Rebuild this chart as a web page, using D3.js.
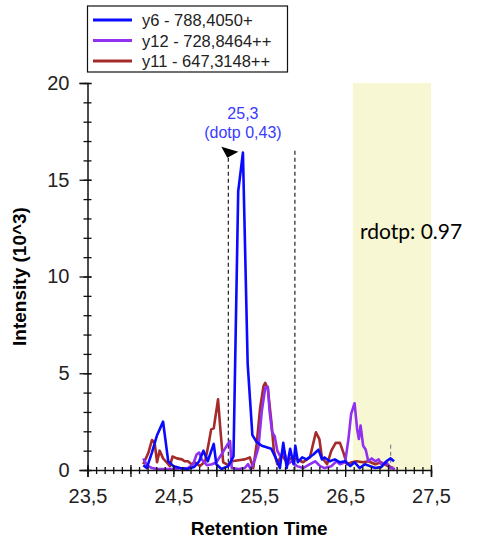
<!DOCTYPE html>
<html>
<head>
<meta charset="utf-8">
<script src="https://cdn.jsdelivr.net/npm/d3@7"></script>
<style>
  body { margin: 0; background: #fff; }
  svg { display: block; font-family: "Liberation Sans", Arial, sans-serif; }
</style>
</head>
<body>
<svg id="chart" width="482" height="544"></svg>
<script>
// y6 - 788,4050+  (blue)
var rtY6 = [24.15, 24.19, 24.25, 24.31, 24.38, 24.44, 24.50, 24.58, 24.66, 24.74, 24.80, 24.85, 24.90, 24.97, 25.00,
  25.06, 25.14, 25.20, 25.255, 25.31, 25.365, 25.42, 25.47, 25.53, 25.64, 25.70, 25.74, 25.78, 25.82, 25.86, 25.90,
  25.92, 25.95, 26.00, 26.05, 26.13, 26.19, 26.23, 26.26, 26.32, 26.38, 26.44, 26.50, 26.56, 26.61, 26.67, 26.73,
  26.79, 26.85, 26.92, 26.98, 27.03, 27.07];
var intY6 = [0.25, 0.1, 0.9, 1.8, 2.5, 0.45, 0.2, 0.1, 0.05, 0.15, 0.45, 1.0, 0.45, 1.35, 0.3,
  0.05, 0.2, 0.7, 14.4, 16.4, 5.5, 1.8, 1.45, 1.25, 1.1, 0.55, 0.1, 1.4, 0.1, 1.1, 0.3,
  1.25, 0.4, 0.65, 0.55, 0.8, 1.05, 0.55, 0.65, 0.45, 0.55, 0.4, 0.45, 0.2, 0.4, 0.1, 0.3,
  0.2, 0.1, 0.15, 0.45, 0.6, 0.45];

// y12 - 728,8464++  (purple)
var rtY12 = [24.15, 24.19, 24.25, 24.32, 24.48, 24.67, 24.73, 24.77, 24.80, 24.83, 24.89, 24.95, 25.00, 25.06, 25.12,
  25.16, 25.18, 25.26, 25.33, 25.37, 25.40, 25.45, 25.49, 25.53, 25.57, 25.60, 25.62, 25.65, 25.68, 25.71, 25.75,
  25.79, 25.83, 25.88, 25.94, 26.01, 26.09, 26.15, 26.21, 26.26, 26.34, 26.40, 26.44, 26.50, 26.54, 26.57, 26.61,
  26.64, 26.66, 26.68, 26.71, 26.74, 26.77, 26.81, 26.85, 26.89, 26.92, 26.98, 27.03, 27.08];
var intY12 = [0.6, 0.25, 0.1, 0.05, 0.05, 0.1, 0.3, 0.8, 0.9, 0.55, 0.25, 0.3, 0.4, 0.8, 1.25,
  1.5, 0.1, 0.05, 0.1, 0.3, 0.05, 0.55, 1.15, 3.05, 4.25, 4.3, 3.05, 1.95, 1.75, 1.0, 0.65,
  1.0, 0.3, 0.45, 0.2, 0.1, 0.3, 0.45, 0.2, 0.1, 0.2, 0.45, 0.3, 0.4, 1.65, 2.9, 3.45,
  2.1, 1.6, 2.3, 1.25, 1.05, 0.45, 0.6, 0.45, 0.55, 0.3, 0.4, 0.1, 0.05];

// y11 - 647,3148++  (brown)
var rtY11 = [24.15, 24.21, 24.25, 24.28, 24.31, 24.34, 24.38, 24.42, 24.46, 24.49, 24.54, 24.60, 24.63, 24.67, 24.71,
  24.75, 24.81, 24.87, 24.91, 24.94, 24.97, 25.02, 25.05, 25.08, 25.14, 25.18, 25.26, 25.33, 25.39, 25.43, 25.47,
  25.51, 25.55, 25.57, 25.60, 25.64, 25.67, 25.71, 25.76, 25.82, 25.88, 25.94, 26.01, 26.09, 26.13, 26.16, 26.20,
  26.23, 26.29, 26.34, 26.39, 26.44, 26.48, 26.52, 26.58, 26.63, 26.71, 26.77, 26.85, 26.92, 27.00, 27.06];
var intY11 = [0.3, 0.9, 1.55, 1.45, 0.4, 1.0, 0.6, 0.4, 0.2, 0.7, 0.6, 0.55, 0.45, 0.45, 0.3,
  0.4, 0.2, 0.45, 1.35, 2.1, 2.15, 3.65, 1.95, 0.4, 0.25, 0.45, 0.5, 0.55, 0.65, 0.1, 1.35,
  3.2, 4.35, 4.5, 4.2, 2.55, 1.0, 0.3, 0.8, 0.4, 0.65, 0.55, 0.4, 0.65, 1.4, 1.95, 1.6,
  0.65, 0.3, 1.0, 1.4, 1.4, 0.9, 0.3, 0.4, 0.45, 0.4, 0.45, 0.3, 0.4, 0.2, 0.1];

var seriesNames = ["y6 - 788,4050+", "y12 - 728,8464++", "y11 - 647,3148++"];
var seriesColors = ["#0a0aff", "#9030f0", "#a52a2a"];

var xMajorTicks = [23.5, 24, 24.5, 25, 25.5, 26, 26.5, 27, 27.5];
var xLabelTicks = [23.5, 24.5, 25.5, 26.5, 27.5];
var yMajorTicks = [0, 5, 10, 15, 20];

var peakRt = 25.31, peakLabel = "25,3", peakDotp = "(dotp 0,43)";
var integStart = 25.14, integEnd = 25.915, integTop = 16.5;
var predictedRt = 27.03, predictedTop = 1.3;
var bandStart = 26.59, bandEnd = 27.5;
var rdotpText = "rdotp: 0.97";

var svg = d3.select("#chart");
var margin = {left: 87.5, right: 51, top: 83, bottom: 74};
var W = 482, H = 544;

var x = d3.scaleLinear().domain([23.5, 27.5]).range([margin.left, W - margin.right]);
var y = d3.scaleLinear().domain([0, 20]).range([H - margin.bottom, margin.top]);

// highlighted band
svg.append("rect")
  .attr("x", x(bandStart)).attr("y", y(20))
  .attr("width", x(bandEnd) - x(bandStart)).attr("height", y(0) - y(20))
  .attr("fill", "#f8f7d3");

// rdotp label
svg.append("text")
  .attr("x", 360).attr("y", 239)
  .style("font-family", "Lato, 'Open Sans', sans-serif")
  .style("font-size", "21px")
  .attr("fill", "#000")
  .text(rdotpText);

// integration boundaries
var dashed = svg.append("g").attr("stroke", "#222").attr("stroke-width", 1.2).attr("stroke-dasharray", "4,3");
[integStart, integEnd].forEach(function(t) {
  dashed.append("line").attr("x1", x(t)).attr("x2", x(t)).attr("y1", y(integTop)).attr("y2", y(0));
});
svg.append("line")
  .attr("x1", x(predictedRt)).attr("x2", x(predictedRt))
  .attr("y1", y(predictedTop)).attr("y2", y(0))
  .attr("stroke", "#888").attr("stroke-width", 1.2).attr("stroke-dasharray", "4,3");

// arrow flag at the start boundary
var ax = x(integStart), ay = y(integTop);
svg.append("path")
  .attr("d", "M" + (ax - 7) + "," + (ay - 4) + "L" + (ax + 10) + "," + (ay + 1) + "L" + (ax - 1) + "," + (ay + 7) + "Z")
  .attr("fill", "#000");

// chromatogram lines (drawn y11, y12, y6 so blue is on top)
var line = d3.line().x(function(d) { return x(d[0]); }).y(function(d) { return y(d[1]); });
var series = [
  {rt: rtY6, v: intY6, color: seriesColors[0]},
  {rt: rtY12, v: intY12, color: seriesColors[1]},
  {rt: rtY11, v: intY11, color: seriesColors[2]}
];
series.slice().reverse().forEach(function(s) {
  svg.append("path")
    .datum(d3.zip(s.rt, s.v))
    .attr("d", line)
    .attr("fill", "none")
    .attr("stroke", s.color)
    .attr("stroke-width", 2.6)
    .attr("stroke-linejoin", "round");
});

// peak label
var lbl = svg.append("g").attr("fill", "#3a3aff").style("font-size", "16px").attr("text-anchor", "middle");
lbl.append("text").attr("x", x(peakRt)).attr("y", 119).text(peakLabel);
lbl.append("text").attr("x", x(peakRt)).attr("y", 138).text(peakDotp);

// axes (extra tick-only axes make the ticks cross the axis line)
function tickOnly(g) { g.select(".domain").remove(); }

svg.append("g").attr("transform", "translate(" + margin.left + ",0)")
  .call(d3.axisLeft(y).tickValues(yMajorTicks).tickSize(8).tickPadding(10).tickFormat(d3.format("d")));
svg.append("g").attr("transform", "translate(" + margin.left + ",0)")
  .call(d3.axisRight(y).tickValues(yMajorTicks).tickSize(4).tickFormat("")).call(tickOnly);
svg.append("g").attr("transform", "translate(" + (margin.left - 4) + ",0)")
  .call(d3.axisRight(y).ticks(20).tickSize(8).tickFormat("")).call(tickOnly);

var x0 = y(0);
svg.append("g").attr("transform", "translate(0," + x0 + ")")
  .call(d3.axisBottom(x).tickValues(xMajorTicks).tickSize(7).tickPadding(12)
    .tickFormat(function(d) { return xLabelTicks.indexOf(d) >= 0 ? d3.format(".1f")(d).replace(".", ",") : ""; }));
svg.append("g").attr("transform", "translate(0," + x0 + ")")
  .call(d3.axisTop(x).tickValues(xMajorTicks).tickSize(5).tickFormat("")).call(tickOnly);
svg.append("g").attr("transform", "translate(0," + (x0 - 3) + ")")
  .call(d3.axisBottom(x).ticks(40).tickSize(7).tickFormat("")).call(tickOnly);

svg.selectAll(".domain").attr("stroke", "#111").attr("stroke-width", 1.5);
svg.selectAll(".tick line").attr("stroke", "#111").attr("stroke-width", 1.3);
svg.selectAll(".tick text").attr("fill", "#222").style("font-size", "20px").style("font-family", "'Liberation Sans', Arial, sans-serif");

// axis titles
svg.append("text")
  .attr("x", (x(23.5) + x(27.5)) / 2).attr("y", 535)
  .attr("text-anchor", "middle")
  .style("font-size", "19px").style("font-weight", "bold")
  .text("Retention Time");
svg.append("text")
  .attr("transform", "translate(26," + ((y(0) + y(20)) / 2) + ") rotate(-90)")
  .attr("text-anchor", "middle")
  .style("font-size", "19px").style("font-weight", "bold")
  .text("Intensity (10^3)");

// legend
var legend = svg.append("g");
legend.append("rect")
  .attr("x", 87.5).attr("y", 6).attr("width", 200).attr("height", 66)
  .attr("fill", "#fff").attr("stroke", "#111").attr("stroke-width", 1.2);
seriesNames.forEach(function(name, i) {
  var ry = 20 + i * 20.5;
  legend.append("line").attr("x1", 93).attr("x2", 132).attr("y1", ry).attr("y2", ry)
    .attr("stroke", seriesColors[i]).attr("stroke-width", 3);
  legend.append("text").attr("x", 142).attr("y", ry + 6)
    .style("font-size", "16.5px").attr("fill", "#222").text(name);
});
</script>
</body>
</html>
